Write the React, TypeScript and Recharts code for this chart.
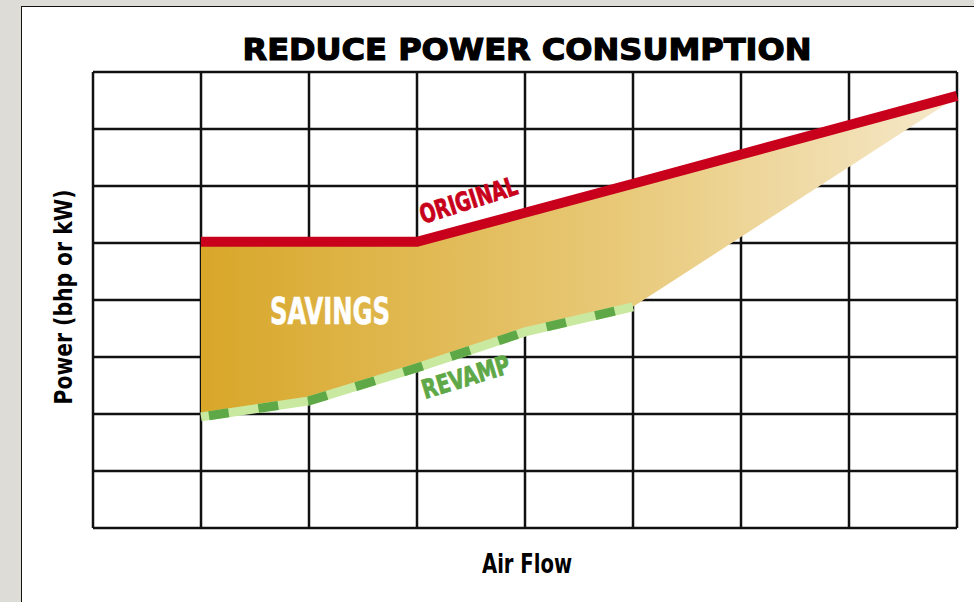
import React from 'react';
import { ComposedChart, Area, Line, XAxis, YAxis, CartesianGrid } from 'recharts';

// x positions along the air-flow axis (grid units 0..8)
const flow = [1, 2, 3, 4, 5, 8];
const original = [5.02, 5.02, 5.02, 5.53, 6.04, 7.58];
const revamp: (number | null)[] = [1.95, 2.23, 2.81, 3.44, 3.88, null];
const savingsLow = [1.95, 2.23, 2.81, 3.44, 3.88, 7.56];
const gridTicks = [0, 1, 2, 3, 4, 5, 6, 7, 8];

const data = flow.map((x, i) => ({
    x,
    original: original[i],
    revamp: revamp[i],
    savings: [savingsLow[i], original[i]],
}));

const condensed = '"Liberation Sans Narrow", "DejaVu Sans Condensed", "Roboto Condensed", sans-serif';

export default function App() {
    return (
        <div style={{ position: 'fixed', left: 0, top: 0, width: 974, height: 602, background: '#dddcd6', overflow: 'hidden' }}>
            <div style={{ position: 'absolute', left: 21, top: 6, width: 980, height: 620, background: '#fff', border: '1.5px solid #111', boxSizing: 'border-box' }} />
            <div style={{ position: 'absolute', left: 0, top: 0 }}>
                <ComposedChart width={974} height={602} data={data} margin={{ top: 72, right: 17, bottom: 74, left: 93 }}>
                    <defs>
                        <linearGradient id="savingsFill" x1="0" y1="0" x2="1" y2="0">
                            <stop offset="0%" stopColor="#d8a729" />
                            <stop offset="55%" stopColor="#e8c978" />
                            <stop offset="100%" stopColor="#f6e9cc" />
                        </linearGradient>
                    </defs>
                    <XAxis dataKey="x" type="number" domain={[0, 8]} ticks={gridTicks} hide />
                    <YAxis type="number" domain={[0, 8]} ticks={gridTicks} hide />
                    <CartesianGrid stroke="#111" strokeWidth={2.5} />
                    <Area
                        dataKey="savings"
                        type="linear"
                        fill="url(#savingsFill)"
                        fillOpacity={1}
                        stroke="none"
                        isAnimationActive={false}
                        activeDot={false}
                    />
                    <Line dataKey="revamp" type="linear" stroke="#c9e9a0" strokeWidth={9} dot={false} activeDot={false} isAnimationActive={false} />
                    <Line dataKey="revamp" type="linear" stroke="#5ea847" strokeWidth={9} strokeDasharray="20 30" strokeDashoffset={-8} dot={false} activeDot={false} isAnimationActive={false} />
                    <Line dataKey="original" type="linear" stroke="#c8001c" strokeWidth={10} dot={false} activeDot={false} isAnimationActive={false} />
                </ComposedChart>
            </div>
            <svg width={974} height={602} style={{ position: 'absolute', left: 0, top: 0, pointerEvents: 'none' }}>
                <text x={527} y={60} textAnchor="middle" fontFamily='"DejaVu Sans", sans-serif' fontWeight={900} fontSize={31} textLength={569} lengthAdjust="spacingAndGlyphs" fill="#000" stroke="#000" strokeWidth={1.2}>
                    REDUCE POWER CONSUMPTION
                </text>
                <text x={527} y={573} textAnchor="middle" fontFamily={condensed} fontWeight={700} fontSize={27} textLength={90} lengthAdjust="spacingAndGlyphs" fill="#000">
                    Air Flow
                </text>
                <text transform="translate(72 297) rotate(-90)" textAnchor="middle" fontFamily={condensed} fontWeight={700} fontSize={25} textLength={215} lengthAdjust="spacingAndGlyphs" fill="#000">
                    Power (bhp or kW)
                </text>
                <text x={270} y={324} fontFamily={condensed} fontWeight={700} fontSize={37} textLength={120} lengthAdjust="spacingAndGlyphs" fill="#fff" stroke="#fff" strokeWidth={0.6}>
                    SAVINGS
                </text>
                <text transform="translate(423 224) rotate(-17.5)" fontFamily={condensed} fontWeight={700} fontSize={26} textLength={101} lengthAdjust="spacingAndGlyphs" fill="#c8001c" stroke="#c8001c" strokeWidth={0.8}>
                    ORIGINAL
                </text>
                <text transform="translate(425 399) rotate(-17)" fontFamily={condensed} fontWeight={700} fontSize={26} textLength={91} lengthAdjust="spacingAndGlyphs" fill="#5ea847" stroke="#5ea847" strokeWidth={0.8}>
                    REVAMP
                </text>
            </svg>
        </div>
    );
}
